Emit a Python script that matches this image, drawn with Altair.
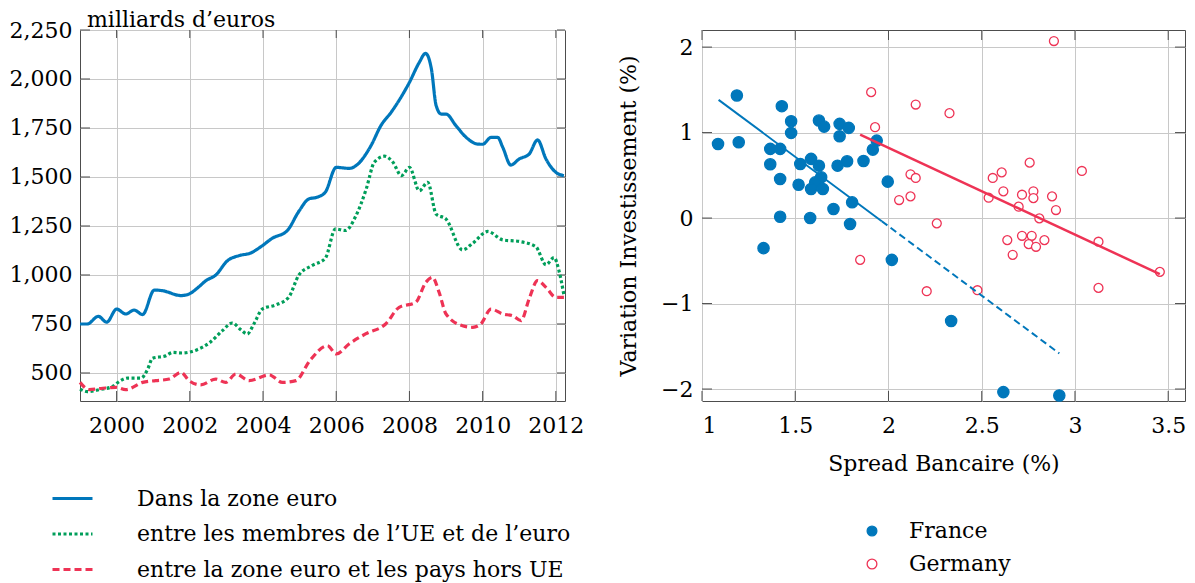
import altair as alt
import pandas as pd

FONT = "DejaVu Serif"
FRAME = "#4d4d4d"

# ---------------- Left chart data (milliards d'euros) ----------------
series_names = [
    "Dans la zone euro",
    "entre les membres de l’UE et de l’euro",
    "entre la zone euro et les pays hors UE",
]
series_colors = ["#0077BB", "#009E5A", "#EE3355"]
series_dash = [[1, 0], [3, 2.5], [7, 4]]

eu_years = [1999.0, 1999.2, 1999.5, 1999.73, 2000.0, 2000.25, 2000.48, 2000.71, 2001.03, 2001.25,
            2001.76, 2001.98, 2002.2, 2002.44, 2002.71, 2003.03, 2003.35, 2003.66, 2003.94, 2004.25,
            2004.66, 2004.98, 2005.25, 2005.48, 2005.7, 2006.0, 2006.36, 2006.54, 2006.95, 2007.22,
            2007.5, 2008.0, 2008.27, 2008.44, 2008.6, 2008.73, 2008.87, 2009.0, 2009.27, 2009.55,
            2009.86, 2010.0, 2010.23, 2010.41, 2010.55, 2010.77, 2011.0, 2011.27, 2011.5, 2011.73,
            2012.0, 2012.22]
eu_vals = [750, 750, 789, 759, 826, 801, 821, 798, 923, 920,
           895, 903, 932, 971, 1000, 1073, 1099, 1112, 1144, 1187,
           1226, 1325, 1388, 1397, 1422, 1549, 1544, 1558, 1660, 1762,
           1830, 1983, 2085, 2131, 2051, 1864, 1821, 1821, 1762, 1702,
           1668, 1667, 1702, 1702, 1651, 1561, 1592, 1617, 1689, 1592,
           1524, 1507]

ue_years = [1999.0, 1999.2, 1999.53, 1999.9, 2000.07, 2000.3, 2000.67, 2000.85, 2000.98, 2001.35,
            2001.53, 2001.8, 2002.2, 2002.53, 2002.89, 2003.16, 2003.39, 2003.57, 2003.75, 2003.98,
            2004.34, 2004.7, 2004.98, 2005.34, 2005.7, 2005.98, 2006.25, 2006.54, 2006.82, 2007.04,
            2007.32, 2007.55, 2007.78, 2008.0, 2008.27, 2008.5, 2008.73, 2009.0, 2009.45, 2009.73,
            2010.14, 2010.55, 2011.0, 2011.45, 2011.73, 2011.95, 2012.09, 2012.22]
ue_vals = [418, 405, 415, 432, 456, 474, 474, 520, 575, 588,
           605, 602, 619, 653, 716, 755, 721, 699, 750, 826,
           847, 886, 1000, 1048, 1085, 1235, 1227, 1303, 1439, 1575,
           1606, 1575, 1507, 1549, 1430, 1473, 1310, 1285, 1128, 1162,
           1222, 1179, 1171, 1145, 1052, 1089, 1018, 898]

ext_years = [1999.0, 1999.25, 1999.62, 1999.98, 2000.25, 2000.71, 2001.07, 2001.44, 2001.76, 2001.98,
             2002.3, 2002.71, 2002.98, 2003.26, 2003.62, 2004.17, 2004.53, 2004.9, 2005.28, 2005.76,
             2006.0, 2006.35, 2006.8, 2007.35, 2007.72, 2008.17, 2008.45, 2008.63, 2008.81, 2009.0,
             2009.45, 2009.73, 2009.95, 2010.23, 2010.55, 2010.82, 2011.05, 2011.27, 2011.5, 2011.73,
             2012.0, 2012.22]
ext_vals = [452, 415, 422, 427, 415, 452, 461, 469, 503, 461,
            439, 469, 452, 495, 461, 490, 452, 461, 563, 639,
            597, 648, 699, 750, 835, 860, 963, 988, 912, 801,
            741, 733, 750, 826, 801, 792, 767, 878, 971, 937,
            886, 886]

year_ticks = [2000, 2002, 2004, 2006, 2008, 2010, 2012]
value_ticks = [500, 750, 1000, 1250, 1500, 1750, 2000, 2250]

# ---------------- Right chart data ----------------
countries = ["France", "Germany"]
country_colors = ["#0077BB", "#EE3355"]

fr_x = [1.086, 1.187, 1.197, 1.366, 1.419, 1.428, 1.478, 1.478, 1.366, 1.419,
        1.527, 1.518, 1.585, 1.627, 1.639, 1.607, 1.585, 1.648, 1.627, 1.655,
        1.738, 1.738, 1.787, 1.727, 1.778, 1.866, 1.916, 1.937, 1.805, 1.705,
        1.996, 1.419, 1.580, 1.794, 1.330, 2.018, 2.336, 2.616, 2.916]
fr_y = [0.867, 1.434, 0.887, 0.809, 0.809, 1.309, 1.133, 0.996, 0.629, 0.457,
        0.633, 0.390, 0.692, 0.613, 0.477, 0.418, 0.340, 0.340, 1.141, 1.070,
        1.102, 0.957, 1.055, 0.613, 0.664, 0.668, 0.801, 0.906, 0.184, 0.106,
        0.426, 0.015, 0.000, -0.070, -0.352, -0.489, -1.204, -2.036, -2.075]

de_x = [1.907, 1.928, 2.146, 2.327, 2.887, 2.118, 2.146, 2.118, 2.057, 2.259,
        2.757, 3.037, 2.607, 2.559, 2.537, 2.616, 2.716, 2.777, 2.777, 2.877,
        2.698, 2.898, 2.809, 2.637, 2.666, 2.716, 2.768, 2.752, 2.791, 2.836,
        3.126, 3.126, 3.455, 2.205, 2.477, 1.848]
de_y = [1.473, 1.063, 1.328, 1.227, 2.071, 0.512, 0.469, 0.254, 0.211, -0.062,
        0.648, 0.551, 0.535, 0.469, 0.238, 0.313, 0.273, 0.313, 0.234, 0.254,
        0.133, 0.094, -0.004, -0.258, -0.430, -0.207, -0.207, -0.305, -0.336, -0.258,
        -0.277, -0.817, -0.629, -0.856, -0.844, -0.489]

# fitted lines (end points)
fr_fit_solid_x = [1.089, 1.964]
fr_fit_solid_y = [1.383, -0.037]
fr_fit_dash_x = [1.964, 2.916]
fr_fit_dash_y = [-0.037, -1.583]
de_fit_x = [1.848, 3.455]
de_fit_y = [0.977, -0.656]

spread_ticks = [1, 1.5, 2, 2.5, 3, 3.5]
inv_ticks = [-2, -1, 0, 1, 2]

LW, LH = 485, 371
RW, RH = 483, 371

# ---------------- Build left chart ----------------
rows = []
for name, ys, vs in zip(series_names, [eu_years, ue_years, ext_years], [eu_vals, ue_vals, ext_vals]):
    for yv, vv in zip(ys, vs):
        rows.append({"year": yv, "value": vv, "series": name})
df_left = pd.DataFrame(rows)

left_legend = alt.Legend(
    title=None, orient="none", legendX=-19, legendY=457, direction="vertical",
    symbolType="M-2,0H2", symbolSize=400, symbolStrokeWidth=3,
    labelFont=FONT, labelFontSize=22, labelColor="black", labelOffset=53,
    rowPadding=12.5, padding=0, labelLimit=600,
)

x_left = alt.X("year:Q", scale=alt.Scale(domain=[1999, 2012.25], nice=False, zero=False),
               axis=alt.Axis(values=year_ticks, format="d", title=None, labelPadding=14))
y_left = alt.Y("value:Q", scale=alt.Scale(domain=[357, 2250], nice=False, zero=False),
               axis=alt.Axis(values=value_ticks, format=",d", title=None, labelPadding=8))

lines = alt.Chart(df_left).mark_line(interpolate="monotone", strokeWidth=3.2).encode(
    x=x_left,
    y=y_left,
    color=alt.Color("series:N", scale=alt.Scale(domain=series_names, range=series_colors), legend=left_legend),
    strokeDash=alt.StrokeDash("series:N", scale=alt.Scale(domain=series_names, range=series_dash), legend=left_legend),
)

df_lyt = pd.DataFrame({"value": value_ticks})
df_lxt = pd.DataFrame({"year": year_ticks})
lt_left = alt.Chart(df_lyt).mark_rule(color=FRAME, strokeWidth=1).encode(
    y=y_left, x=alt.value(0), x2=alt.value(10))
lt_right = alt.Chart(df_lyt).mark_rule(color=FRAME, strokeWidth=1).encode(
    y=y_left, x=alt.value(LW - 8), x2=alt.value(LW))
lt_top = alt.Chart(df_lxt).mark_rule(color=FRAME, strokeWidth=1).encode(
    x=x_left, y=alt.value(0), y2=alt.value(8))
lt_bot = alt.Chart(df_lxt).mark_rule(color=FRAME, strokeWidth=1).encode(
    x=x_left, y=alt.value(LH - 10), y2=alt.value(LH))

left = alt.layer(lt_left, lt_right, lt_top, lt_bot, lines).properties(
    width=LW, height=LH,
    title=alt.TitleParams("milliards d’euros", anchor="start", frame="group", dx=7,
                          font=FONT, fontSize=22, fontWeight="normal", color="black",
                          baseline="alphabetic", offset=-30),
)

# ---------------- Build right chart ----------------
df_pts = pd.DataFrame(
    [{"spread": a, "inv": b, "country": "France"} for a, b in zip(fr_x, fr_y)]
    + [{"spread": a, "inv": b, "country": "Germany"} for a, b in zip(de_x, de_y)]
)

right_legend = alt.Legend(
    title=None, orient="none", legendX=159, legendY=490, direction="vertical",
    symbolSize=95, symbolStrokeWidth=1.3,
    labelFont=FONT, labelFontSize=22, labelColor="black", labelOffset=26,
    rowPadding=11, padding=0,
)

x_right = alt.X("spread:Q", scale=alt.Scale(domain=[1, 3.59], nice=False, zero=False),
                axis=alt.Axis(values=spread_ticks, format="~g", title="Spread Bancaire (%)",
                              labelPadding=14, titlePadding=17))
y_right = alt.Y("inv:Q", scale=alt.Scale(domain=[-2.14, 2.2], nice=False, zero=False),
                axis=alt.Axis(values=inv_ticks, format="d", title="Variation Investissement (%)",
                              labelPadding=9, titlePadding=20))

stroke_enc = alt.Stroke("country:N", scale=alt.Scale(domain=countries, range=country_colors), legend=right_legend)
fill_enc = alt.Fill("country:N", scale=alt.Scale(domain=countries, range=[country_colors[0], "white"]), legend=right_legend)

base_pts = alt.Chart(df_pts)
fr_pts = base_pts.transform_filter(alt.datum.country == "France").mark_point(
    shape="circle", size=127, strokeWidth=1.3, opacity=1
).encode(x=x_right, y=y_right, stroke=stroke_enc, fill=fill_enc)
de_pts = base_pts.transform_filter(alt.datum.country == "Germany").mark_point(
    shape="circle", size=80, strokeWidth=1.3, opacity=1
).encode(x=x_right, y=y_right, stroke=stroke_enc, fill=fill_enc)

fit_fr_solid = alt.Chart(pd.DataFrame({"spread": fr_fit_solid_x, "inv": fr_fit_solid_y})).mark_line(
    color=country_colors[0], strokeWidth=2).encode(x=x_right, y=y_right)
fit_fr_dash = alt.Chart(pd.DataFrame({"spread": fr_fit_dash_x, "inv": fr_fit_dash_y})).mark_line(
    color=country_colors[0], strokeWidth=2, strokeDash=[7, 4]).encode(x=x_right, y=y_right)
fit_de = alt.Chart(pd.DataFrame({"spread": de_fit_x, "inv": de_fit_y})).mark_line(
    color=country_colors[1], strokeWidth=2.5).encode(x=x_right, y=y_right)

df_ryt = pd.DataFrame({"inv": inv_ticks})
df_rxt = pd.DataFrame({"spread": spread_ticks})
rt_left = alt.Chart(df_ryt).mark_rule(color=FRAME, strokeWidth=1).encode(
    y=y_right, x=alt.value(0), x2=alt.value(10))
rt_right = alt.Chart(df_ryt).mark_rule(color=FRAME, strokeWidth=1).encode(
    y=y_right, x=alt.value(RW - 10), x2=alt.value(RW))
rt_top = alt.Chart(df_rxt).mark_rule(color=FRAME, strokeWidth=1).encode(
    x=x_right, y=alt.value(0), y2=alt.value(10))
rt_bot = alt.Chart(df_rxt).mark_rule(color=FRAME, strokeWidth=1).encode(
    x=x_right, y=alt.value(RH - 10), y2=alt.value(RH))

right = alt.layer(rt_left, rt_right, rt_top, rt_bot, fr_pts, de_pts,
                  fit_fr_solid, fit_fr_dash, fit_de).properties(width=RW, height=RH)

chart = alt.hconcat(left, right, spacing=137, bounds="flush").resolve_scale(
    color="independent", strokeDash="independent", stroke="independent", fill="independent"
).resolve_legend(
    color="independent", strokeDash="independent", stroke="independent", fill="independent"
).properties(
    padding={"left": 0, "top": 0, "right": 0, "bottom": 0}
).configure_view(
    stroke=FRAME, strokeWidth=1
).configure_axis(
    labelFont=FONT, labelFontSize=22, labelColor="black",
    titleFont=FONT, titleFontSize=22, titleFontWeight="normal", titleColor="black",
    gridColor="#c8c8c8", gridWidth=1, domain=False, ticks=False,
).configure_legend(
    labelFont=FONT, labelFontSize=22,
)

chart.save("out.html", embed_options={"renderer": "svg", "actions": False})
